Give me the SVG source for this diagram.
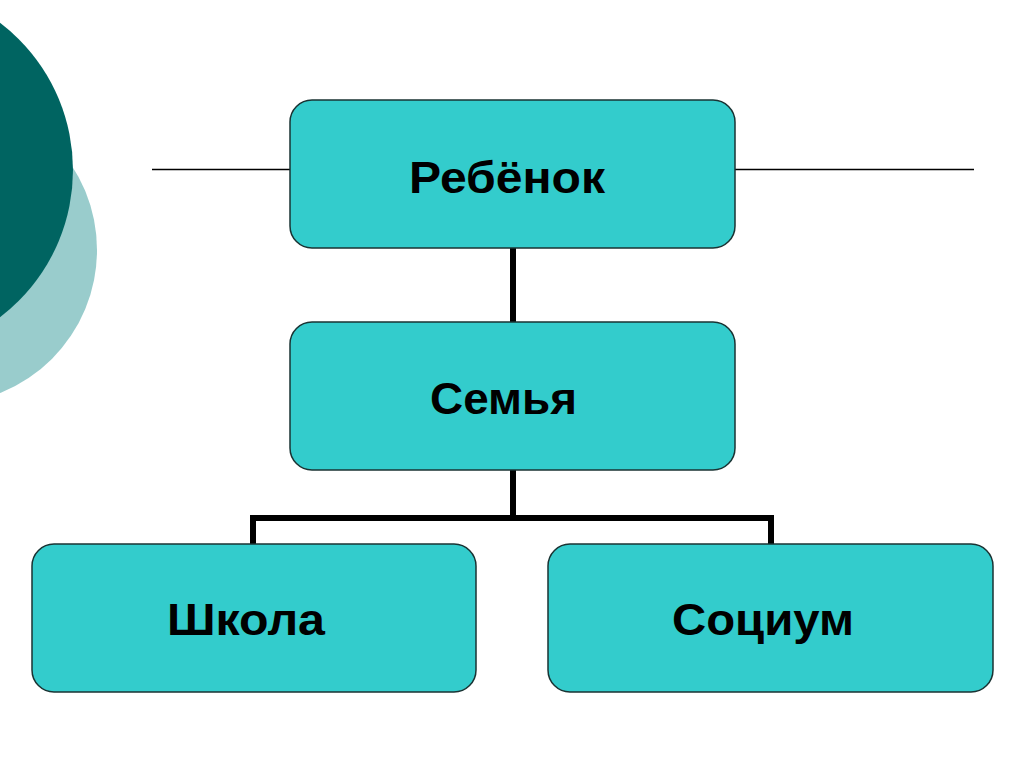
<svg xmlns="http://www.w3.org/2000/svg" width="1024" height="767" viewBox="0 0 1024 767">
<style>
.box{fill:#33CCCC;stroke:#1a3333;stroke-width:1.5}
.lbl{font-family:"Liberation Sans",Arial,sans-serif;font-weight:bold;font-size:45px;fill:#000}
.conn{fill:none;stroke:#000;stroke-width:6;stroke-linejoin:miter}
</style>
<rect width="1024" height="767" fill="#fff"/>
<g id="decor">
<circle cx="-57" cy="250" r="154" fill="#99CCCC"/>
<circle cx="-112" cy="170" r="185" fill="#006461"/>
<line x1="152" y1="169.5" x2="290" y2="169.5" stroke="#000" stroke-width="1.3"/>
<line x1="735" y1="169.5" x2="974" y2="169.5" stroke="#000" stroke-width="1.3"/>
</g>
<g id="connectors">
<path class="conn" d="M513 248 V322"/>
<path class="conn" d="M513 470 V518 M253 518 H771 M253 515 V544 M771 515 V544"/>
</g>
<g id="node-rebenok">
<rect class="box" x="290" y="100" width="445" height="148" rx="22"/>
<text class="lbl" x="409" y="193" textLength="196" lengthAdjust="spacingAndGlyphs">Ребёнок</text>
</g>
<g id="node-semya">
<rect class="box" x="290" y="322" width="445" height="148" rx="22"/>
<text class="lbl" x="430" y="414" textLength="147" lengthAdjust="spacingAndGlyphs">Семья</text>
</g>
<g id="node-shkola">
<rect class="box" x="32" y="544" width="444" height="148" rx="22"/>
<text class="lbl" x="167" y="635" textLength="158" lengthAdjust="spacingAndGlyphs">Школа</text>
</g>
<g id="node-socium">
<rect class="box" x="548" y="544" width="445" height="148" rx="22"/>
<text class="lbl" x="672" y="635" textLength="182" lengthAdjust="spacingAndGlyphs">Социум</text>
</g>
</svg>
